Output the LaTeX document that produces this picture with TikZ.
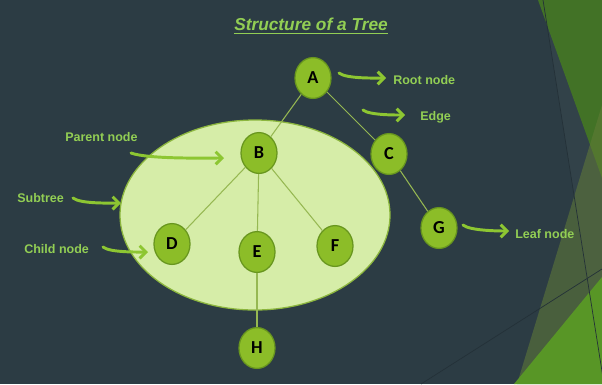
\documentclass[tikz,border=0pt]{standalone}
\usepackage{fontspec}
\usepackage{xcolor}
\usetikzlibrary{shapes.geometric,arrows.meta}
\setmainfont{Liberation Sans}
\newfontfamily\lettersf{Carlito}
\definecolor{slate}{RGB}{44,60,68}
\definecolor{topgreen}{RGB}{66,114,38}
\definecolor{olivegreen}{RGB}{98,124,56}
\definecolor{brightgreen}{RGB}{88,150,38}
\definecolor{leafgreen}{RGB}{140,189,40}
\definecolor{leafedge}{RGB}{104,150,30}
\definecolor{paleleaf}{RGB}{214,237,168}
\definecolor{paleedge}{RGB}{140,182,62}
\definecolor{labelgreen}{RGB}{146,206,84}
\definecolor{arrowgreen}{RGB}{141,198,50}
\definecolor{branch}{RGB}{150,184,82}

\begin{document}
\begin{tikzpicture}[x=0.025cm,y=-0.025cm,
  vert/.style={ellipse,draw=leafedge,line width=0.9pt,fill=leafgreen,minimum width=0.9cm,minimum height=1.02cm,inner sep=0pt,font=\lettersf\bfseries\fontsize{13}{13}\selectfont},
  tag/.style={anchor=base west,inner sep=0pt,text=labelgreen,font=\bfseries\fontsize{8.9}{10}\selectfont},
  pointer/.style={arrowgreen,line width=2.1pt,line cap=round,-{Straight Barb[length=4.5pt,width=9pt]}}]
  \useasboundingbox (0,0) rectangle (602,384);
  % slide background and the facets on the right
  \fill[slate] (0,0) rectangle (602,384);
  \fill[white,opacity=0.03] (543,0) -- (602,0) -- (602,384) -- (604,384) -- cycle;
  \fill[topgreen] (538,0) -- (602,0) -- (602,178) -- cycle;
  \fill[olivegreen,opacity=0.55] (602,105) -- (517,384) -- (602,384) -- cycle;
  \fill[brightgreen] (514,384) -- (602,277) -- (602,384) -- cycle;
  \draw[line width=0.5pt,black!18!slate] (543,0) -- (604,384); \draw[line width=0.5pt,black!18!slate] (421,384) -- (602,269);

  \node[anchor=base,inner sep=0pt,text=labelgreen,font=\bfseries\itshape\fontsize{12.3}{14}\selectfont] (title) at (311,30) {Structure of a Tree};
  \draw[labelgreen,line width=1.1pt] ([yshift=-2.4pt]title.base west) -- ([yshift=-2.4pt]title.base east);

  \draw[fill=paleleaf,draw=paleedge,line width=0.9pt] (255,215) ellipse (135 and 95);

  \node[vert] (A) at (313,78) {A}; \node[vert] (B) at (259,153) {B}; \node[vert] (C) at (389,154) {C};
  \node[vert] (D) at (172,244) {D}; \node[vert] (E) at (257,252) {E}; \node[vert] (F) at (335,246) {F};
  \node[vert] (G) at (439,228) {G}; \node[vert] (H) at (257,348) {H};
  \draw[branch,line width=0.75pt] (A) -- (B); \draw[branch,line width=0.75pt] (A) -- (C); \draw[branch,line width=0.75pt] (C) -- (G);
  \draw[branch,line width=0.75pt] (B) -- (D); \draw[branch,line width=0.75pt] (B) -- (E); \draw[branch,line width=0.75pt] (B) -- (F);
  \draw[branch,line width=0.75pt] (E) -- (H);

  \node[tag] (rootlbl) at (393,84) {Root node}; \node[tag] (edgelbl) at (420,120) {Edge};
  \node[tag] (parentlbl) at (65,141) {Parent node}; \node[tag] (sublbl) at (17,202) {Subtree};
  \node[tag] (childlbl) at (24,253) {Child node}; \node[tag] (leaflbl) at (515,238) {Leaf node};

  \coordinate (r0) at (339,73); \coordinate (r1) at (386,78);
  \coordinate (e0) at (363,110); \coordinate (e1) at (405,115);
  \coordinate (p0) at (131,153); \coordinate (p1) at (224,158);
  \coordinate (s0) at (73,198); \coordinate (s1) at (121,203);
  \coordinate (c0) at (103,247); \coordinate (c1) at (148,252);
  \coordinate (l0) at (463,225); \coordinate (l1) at (509,231);
  \draw[pointer] (r0) to[out=-40,in=180,looseness=0.5] (r1); \draw[pointer] (e0) to[out=-40,in=180,looseness=0.5] (e1);
  \draw[pointer] (p0) to[out=-20,in=180,looseness=0.5] (p1); \draw[pointer] (s0) to[out=-40,in=180,looseness=0.5] (s1);
  \draw[pointer] (c0) to[out=-40,in=180,looseness=0.5] (c1); \draw[pointer] (l0) to[out=-40,in=180,looseness=0.5] (l1);
\end{tikzpicture}
\end{document}
